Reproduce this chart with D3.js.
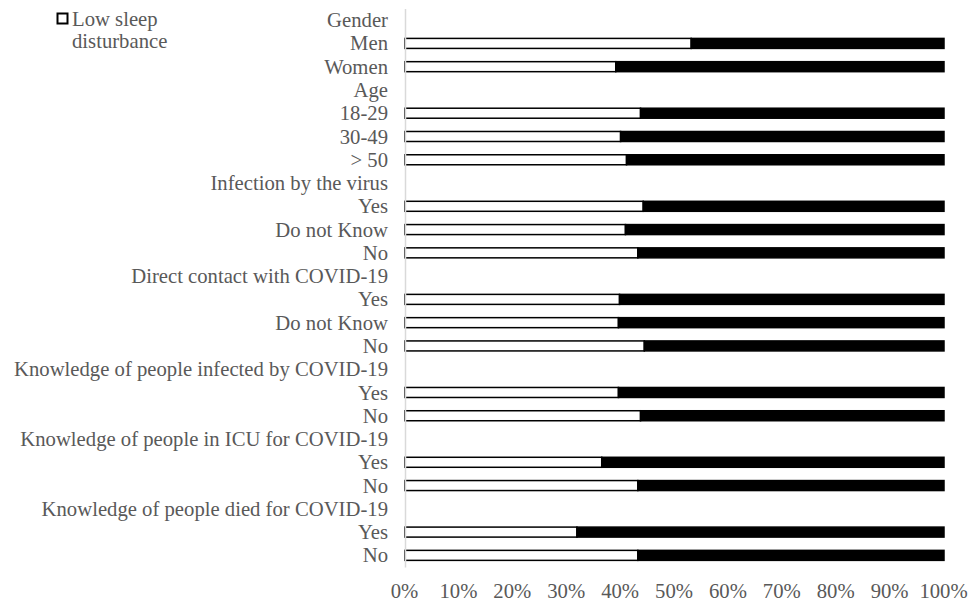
<!DOCTYPE html>
<html>
<head>
<meta charset="utf-8">
<script src="https://cdn.jsdelivr.net/npm/d3@7"></script>
<style>
  html, body { margin: 0; padding: 0; background: #fff; }
  svg { display: block; }
  text { font-family: "Liberation Serif", "Times New Roman", serif; fill: #595959; }
</style>
</head>
<body>
<svg id="chart" width="968" height="608"></svg>
<script>
// Row labels, top to bottom; group headers carry no bar (null value).
const categories = [
  "Gender", "Men", "Women",
  "Age", "18-29", "30-49", "> 50",
  "Infection by the virus", "Yes", "Do not Know", "No",
  "Direct contact with COVID-19", "Yes", "Do not Know", "No",
  "Knowledge of people infected by COVID-19", "Yes", "No",
  "Knowledge of people in ICU for COVID-19", "Yes", "No",
  "Knowledge of people died for COVID-19", "Yes", "No"
];
// Share with low sleep disturbance (the rest is high sleep disturbance).
const lowSleep = [
  null, 0.531, 0.391,
  null, 0.437, 0.400, 0.411,
  null, 0.442, 0.409, 0.432,
  null, 0.398, 0.396, 0.444,
  null, 0.396, 0.437,
  null, 0.365, 0.432,
  null, 0.319, 0.432
];
const highSleep = lowSleep.map(v => v == null ? null : 1 - v);
const tickValues = [0, 0.1, 0.2, 0.3, 0.4, 0.5, 0.6, 0.7, 0.8, 0.9, 1];
const legendLabel = ["Low sleep", "disturbance"];

const FONT = 20.7;
const svg = d3.select("#chart");
const rows = categories.map((c, i) => ({ key: i, label: c, low: lowSleep[i], high: highSleep[i] }));

const x = d3.scaleLinear().domain([0, 1]).range([405, 944]);
const y = d3.scaleBand().domain(rows.map(d => d.key)).range([8.5, 567]).paddingInner(0.5).paddingOuter(0.25);

// Stack the two series
const stack = d3.stack().keys(["low", "high"]);
const barRows = rows.filter(d => d.low != null);
const series = stack(barRows);
const fills = { low: "#ffffff", high: "#000000" };

svg.append("g").selectAll("g")
  .data(series)
  .join("g")
  .attr("fill", s => fills[s.key])
  .attr("stroke", "#000")
  .attr("stroke-width", 1.5)
  .selectAll("rect")
  .data(s => s)
  .join("rect")
  .attr("x", d => x(d[0]))
  .attr("width", d => x(d[1]) - x(d[0]))
  .attr("y", d => y(d.data.key) + y.bandwidth() / 2 - 5)
  .attr("height", 10);

// Category axis (left)
const yAxis = d3.axisLeft(y).tickSize(0).tickPadding(17).tickFormat(i => categories[i]);
const gy = svg.append("g").attr("transform", "translate(405,0)").call(yAxis);
gy.select(".domain").attr("stroke", "#d9d9d9").attr("stroke-width", 1.5);
gy.selectAll("text").attr("font-size", FONT).attr("dy", "0.34em");

// Percentage axis (bottom), no line
const xAxis = d3.axisBottom(x).tickValues(tickValues).tickSize(0).tickPadding(0).tickFormat(d3.format(".0%"));
const gx = svg.append("g").attr("transform", "translate(-1,583)").call(xAxis);
gx.select(".domain").remove();
gx.selectAll("text").attr("font-size", FONT).attr("dy", "0.71em");

// Legend
const lg = svg.append("g");
lg.append("rect").attr("x", 57.5).attr("y", 13.5).attr("width", 10).attr("height", 10)
  .attr("fill", "#fff").attr("stroke", "#000").attr("stroke-width", 2);
lg.selectAll("text").data(legendLabel).join("text")
  .attr("x", 72).attr("y", (d, i) => 26 + i * 22)
  .attr("font-size", FONT)
  .text(d => d);
</script>
</body>
</html>
